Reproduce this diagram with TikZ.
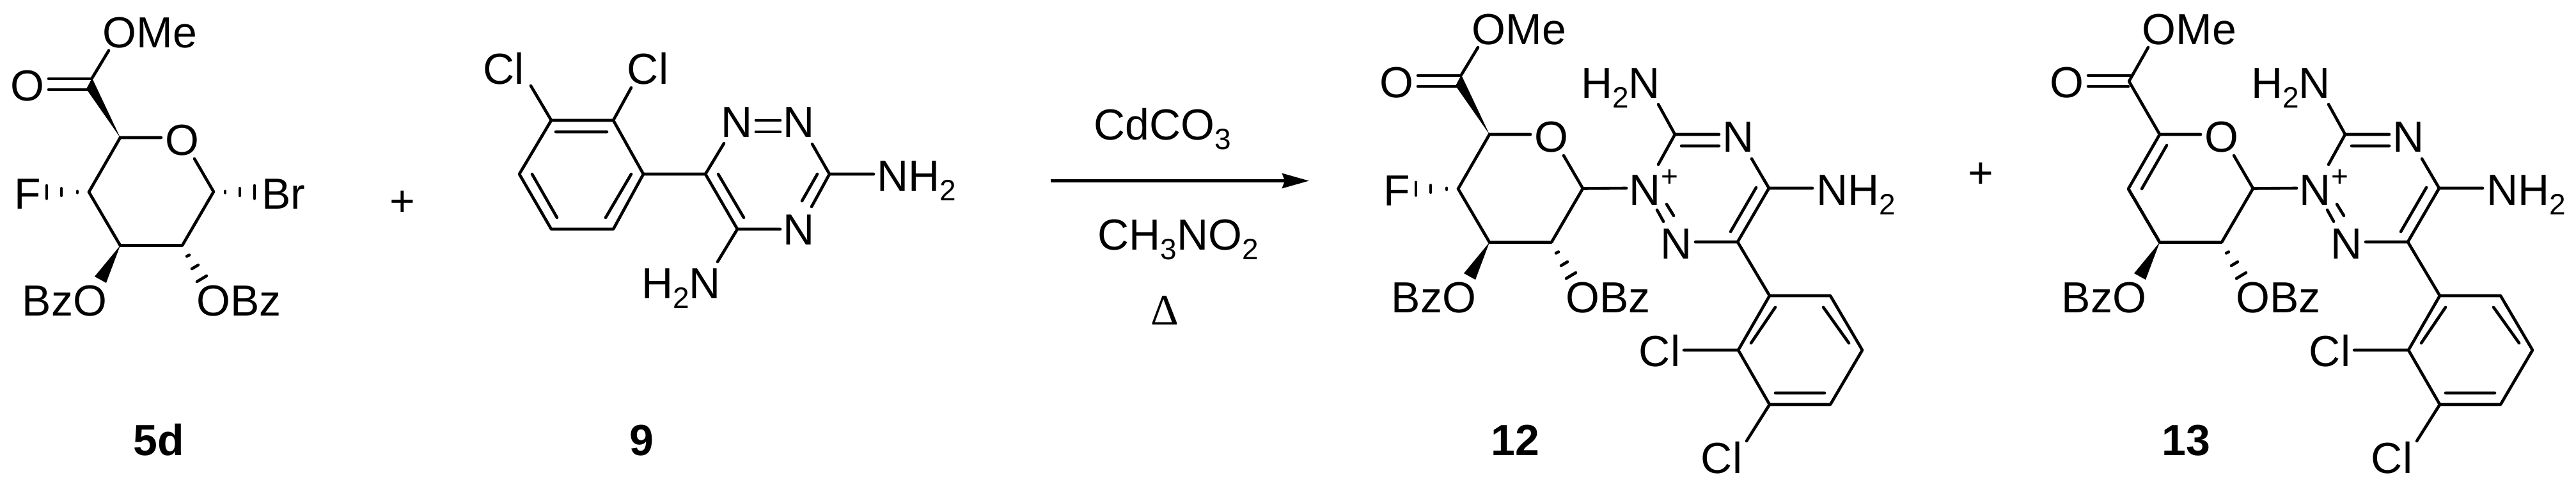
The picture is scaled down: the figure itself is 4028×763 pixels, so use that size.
\documentclass[tikz,border=0pt]{standalone}
\usepackage{fontspec}
\setmainfont{Liberation Sans}
\newfontfamily\deltafont{Liberation Serif}
\usetikzlibrary{arrows.meta}
\newcommand{\csub}[1]{\raisebox{-15pt}{\fontsize{46}{46}\selectfont #1}}
\tikzset{
  bond/.style={line width=4.6pt,line cap=round,line join=round},
  hashbar/.style={line width=4.6pt,line cap=round},
  lab/.style={inner sep=0pt,anchor=base,font=\fontsize{68}{80}\selectfont},
  cmpd/.style={inner sep=0pt,anchor=base,font=\fontsize{68}{80}\selectfont\bfseries},
  pluslab/.style={inner sep=0pt,anchor=center,font=\fontsize{68}{80}\selectfont},
  charge/.style={inner sep=0pt,anchor=center,font=\fontsize{46}{46}\selectfont},
}
% Pyranose frame shared by 5d, 12 and 13 (coordinates in the frame of 5d)
\newcommand{\SugarFrame}{%
  \foreach \n/\x/\y in {C3/188/383.5,C2/285/383.5,C1/334/299.5,C5/188/215,C4/139/300,
     OEa/252/215,OEb/304/248,cc/140/132,ccT/142/123,ccB/139/140,
     DbT/76/123,DbB/76/140,MeE/170/79,w1/148/432,w2/166/442,
     ha1/292/400.5,ha2/296/398.5,hb1/300/420,hb2/310/414,hc1/308/440,hc2/323/431}
    {\coordinate (\n) at (\x,\y);}
  \node[lab] (OMe) at (234.5,74.5) {OMe};
  \node[lab] (Odb) at (43,157) {O};
  \node[lab] (Oring) at (285,242) {O};
  \node[lab] (BzO) at (101,493.5) {BzO};
  \node[lab] (OBz) at (373.5,493.5) {OBz};
  \draw[bond] (C5) -- (OEa) (OEb) -- (C1) -- (C2) -- (C3) -- (C4);
  \draw[bond] (DbT) -- (ccT) (DbB) -- (ccB);
  \fill (C3) -- (w1) -- (w2) -- cycle;
  \draw[hashbar] (ha1) -- (ha2) (hb1) -- (hb2) (hc1) -- (hc2);
}
% Fluorine with hash and wedge to the ester, in the frame of 5d
\newcommand{\FluoroPart}{%
  \foreach \n/\x/\y in {fa1/121/298.8,fa2/121/301.2,fb1/96/294.3,fb2/96/305.7,fc1/73/289.8,fc2/73/310.2,
     wt/144/122,wb/135/139}
    {\coordinate (\n) at (\x,\y);}
  \node[lab] (F) at (43,326) {F};
  \draw[bond] (C4) -- (C5);
  \draw[bond] (wt) -- (MeE);
  \fill (C5) -- (wt) -- (wb) -- cycle;
  \draw[hashbar] (fa1) -- (fa2) (fb1) -- (fb2) (fc1) -- (fc2);
}
% Triazine and dichlorophenyl of 12 and 13 (coordinates in the frame of 12)
\newcommand{\TriazinePart}{%
  \foreach \n/\x/\y in {Ta/2619/210,Tb/2766/294,Tc/2717/378,Ar1/2767/462,Ar2/2862/462,
     Ar3/2912/547,Ar4/2862/632,Ar5/2767/632,Ar6/2718/547,
     Nc/2543/294,e1/2593/163,e2/2593/257,e3/2629/228,e4/2688/228,e5/2688/210,
     e6/2739/248,e7/2834/294,e8/2746/293,e9/2706/362,e10/2651/378,
     d1/2591/328,d2/2601/346,d3/2606/319,d4/2617/337,
     i1/2776/480,i2/2738/536,i3/2851/480,i4/2891/536,i5/2776/614,i6/2853/614,
     g1/2633/547,g2/2731/689}
    {\coordinate (\n) at (\x,\y);}
  \node[lab] (Np) at (2572,320) {N};
  \node[charge] (chg) at (2611,278) {+};
  \node[lab] (H2N) at (2534,153) {H\csub{2}N};
  \node[lab] (Nt) at (2718,237) {N};
  \node[lab] (Nl) at (2621,404) {N};
  \node[lab] (NH2) at (2902,320) {NH\csub{2}};
  \node[lab] (Cl1) at (2595,572) {Cl};
  \node[lab] (Cl2) at (2692,739) {Cl};
  \draw[bond] (C1) -- (Nc);
  \draw[bond] (e1) -- (Ta) -- (e2) (Ta) -- (e5) (e3) -- (e4);
  \draw[bond] (d1) -- (d2) (d3) -- (d4);
  \draw[bond] (e6) -- (Tb) -- (e7) (Tb) -- (Tc) -- (e10) (e8) -- (e9);
  \draw[bond] (Tc) -- (Ar1);
  \draw[bond] (Ar1) -- (Ar2) -- (Ar3) -- (Ar4) -- (Ar5) -- (Ar6) -- cycle;
  \draw[bond] (i1) -- (i2) (i3) -- (i4) (i5) -- (i6);
  \draw[bond] (Ar6) -- (g1) (Ar5) -- (g2);
}
\begin{document}
\begin{tikzpicture}[x=1pt,y=-1pt]
\useasboundingbox (0,0) rectangle (4028,763);
% ---- 5d
\begin{scope}[name prefix=r-]
  \SugarFrame
  \FluoroPart
  \foreach \n/\x/\y in {ba1/352/298.8,ba2/352/301.2,bb1/375/294.3,bb2/375/305.7,bc1/398/289.8,bc2/398/310.2}
    {\coordinate (\n) at (\x,\y);}
  \node[lab] (Br) at (443,326) {Br};
  \draw[hashbar] (ba1) -- (ba2) (bb1) -- (bb2) (bc1) -- (bc2);
  \node[cmpd] (lab5d) at (248,711) {5d};
\end{scope}
\node[pluslab] (plusA) at (629,318) {+};
% ---- 9
\begin{scope}[name prefix=t-]
  \foreach \n/\x/\y in {a1/862/188,a2/959/188,a3/1006/272,a4/959/358,a5/862/358,a6/812/272,
     i1/869/206,i2/949/206,i3/832/272,i4/871/340,i5/987/272,i6/947/340,
     c1/830/134,c2/987/137,T6/1103/272,T5/1153/358,T3/1297/272,
     n1/1132/224,n2/1182/188,n3/1220/188,n4/1182/206,n5/1220/206,n6/1270/225,
     n7/1269/323,n8/1278/272,n9/1254/314,n10/1366/272,n11/1220/358,n12/1123/272,n13/1163/340,n14/1122/409}
    {\coordinate (\n) at (\x,\y);}
  \node[lab] (Cl1) at (788,131) {Cl};
  \node[lab] (Cl2) at (1013,131) {Cl};
  \node[lab] (N1) at (1152,214) {N};
  \node[lab] (N2) at (1249,214) {N};
  \node[lab] (N4) at (1249,382) {N};
  \node[lab] (NH2) at (1433,298) {NH\csub{2}};
  \node[lab] (H2N) at (1065,466) {H\csub{2}N};
  \draw[bond] (a1) -- (a2) -- (a3) -- (a4) -- (a5) -- (a6) -- cycle;
  \draw[bond] (i1) -- (i2) (i3) -- (i4) (i5) -- (i6);
  \draw[bond] (a1) -- (c1) (a2) -- (c2) (a3) -- (T6);
  \draw[bond] (n1) -- (T6) -- (T5) -- (n11) (n12) -- (n13) (T5) -- (n14);
  \draw[bond] (n2) -- (n3) (n4) -- (n5);
  \draw[bond] (n6) -- (T3) -- (n7) (n8) -- (n9) (T3) -- (n10);
  \node[cmpd] (lab9) at (1003,711) {9};
\end{scope}
% ---- reaction arrow
\coordinate (arrS) at (1643,282.5);
\coordinate (arrE) at (2047,282.5);
\draw[line width=4.8pt,-{Stealth[length=42pt,width=23pt,inset=4pt]}] (arrS) -- (arrE);
\node[lab] (cdco) at (1818,218) {CdCO\csub{3}};
\node[lab] (chno) at (1842,390) {CH\csub{3}NO\csub{2}};
\node[lab,font=\fontsize{68}{80}\selectfont\deltafont] (heat) at (1821,507) {Δ};
% ---- 12
\begin{scope}[name prefix=m-]
  \begin{scope}[shift={(2141,-5)}]
    \SugarFrame
    \FluoroPart
  \end{scope}
  \TriazinePart
  \node[cmpd] (lab12) at (2369.5,711) {12};
\end{scope}
\node[pluslab] (plusB) at (3097,274) {+};
% ---- 13
\begin{scope}[name prefix=n-]
  \begin{scope}[shift={(3189,-5)}]
    \SugarFrame
    \coordinate (di1) at (199,232);
    \coordinate (di2) at (160,300);
    \draw[bond] (C3) -- (C4) -- (C5) -- (cc) -- (MeE);
    \draw[bond] (di1) -- (di2);
  \end{scope}
  \begin{scope}[shift={(1048,0)}]
    \TriazinePart
  \end{scope}
  \node[cmpd] (lab13) at (3418,711) {13};
\end{scope}
\end{tikzpicture}
\end{document}
